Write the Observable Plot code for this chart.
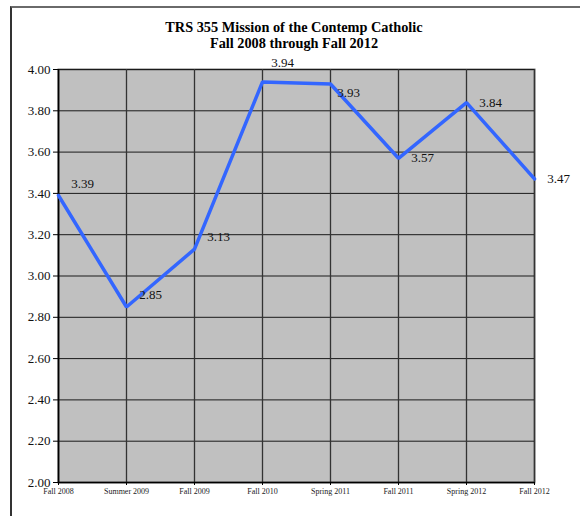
<!DOCTYPE html>
<html>
<head>
<meta charset="utf-8">
<script src="https://cdn.jsdelivr.net/npm/d3@7"></script>
<script src="https://cdn.jsdelivr.net/npm/@observablehq/plot@0.6"></script>
<style>
  html, body { margin: 0; padding: 0; background: #fff; }
  #wrap { position: relative; width: 580px; height: 516px; overflow: hidden; font-family: "Liberation Serif", "Times New Roman", serif; }
  #box { position: absolute; left: 10px; top: 6px; width: 700px; height: 700px; border-top: 2px solid #6a6a6a; border-left: 2px solid #333; box-sizing: border-box; }
  #title { position: absolute; left: 4px; top: 19px; width: 580px; text-align: center; font-weight: bold; font-size: 14.3px; line-height: 16px; color: #000; }
  #chart { position: absolute; left: 0; top: 50px; }
</style>
</head>
<body>
<div id="wrap">
  <div id="box"></div>
  <div id="title"><div>TRS 355 Mission of the Contemp Catholic</div><div>Fall 2008 through Fall 2012</div></div>
  <div id="chart"></div>
</div>
<script>
const terms = ["Fall 2008", "Summer 2009", "Fall 2009", "Fall 2010", "Spring 2011", "Fall 2011", "Spring 2012", "Fall 2012"];
const values = [3.39, 2.85, 3.13, 3.94, 3.93, 3.57, 3.84, 3.47];
const yTicks = [2.00, 2.20, 2.40, 2.60, 2.80, 3.00, 3.20, 3.40, 3.60, 3.80, 4.00];

const data = terms.map((t, i) => ({term: t, value: values[i]}));
const fmt = d3.format(".2f");

const labelStyle = {x: "term", y: "value", text: d => fmt(d.value), fontSize: 13, fill: "#111", fontFamily: "Liberation Serif"};

const chart = Plot.plot({
  width: 580,
  height: 466,
  marginTop: 19,
  marginBottom: 34,
  marginLeft: 58,
  marginRight: 46,
  style: {fontFamily: "Liberation Serif", background: "transparent", overflow: "visible"},
  x: {type: "point", domain: terms, padding: 0},
  y: {domain: [2, 4]},
  marks: [
    Plot.frame({fill: "#c0c0c0", stroke: "#7a7a7a", strokeWidth: 2}),
    Plot.ruleY(yTicks, {stroke: "#1a1a1a", strokeWidth: 1}),
    Plot.ruleX(terms, {stroke: "#333", strokeWidth: 1.3}),
    Plot.ruleY([2], {stroke: "#000", strokeWidth: 1.5}),
    Plot.ruleX([terms[0]], {stroke: "#000", strokeWidth: 1.5}),
    Plot.axisY({ticks: yTicks, tickFormat: fmt, tickSize: 5, tickPadding: 3, fontSize: 13, fill: "#111", label: null}),
    Plot.axisX({tickSize: 3, tickPadding: 3, fontSize: 8, fill: "#222", label: null}),
    Plot.line(data, {x: "term", y: "value", stroke: "#3366ff", strokeWidth: 3.5, strokeLinejoin: "miter"}),
    Plot.text(data, {...labelStyle, filter: (d, i) => i <= 2, dx: 24, dy: -12}),
    Plot.text(data, {...labelStyle, filter: (d, i) => i === 3, dx: 20, dy: -19}),
    Plot.text(data, {...labelStyle, filter: (d, i) => i === 4, dx: 18, dy: 9}),
    Plot.text(data, {...labelStyle, filter: (d, i) => i >= 5, dx: 24, dy: 0})
  ]
});
document.getElementById("chart").appendChild(chart);
</script>
</body>
</html>
